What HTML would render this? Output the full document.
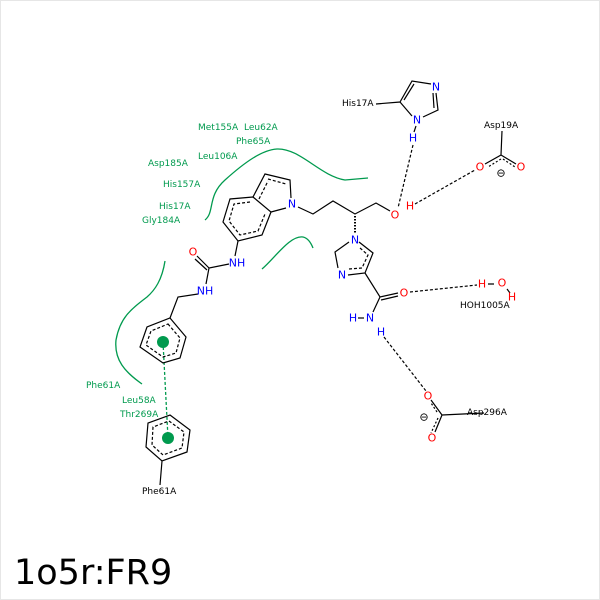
<!DOCTYPE html>
<html><head><meta charset="utf-8"><style>
html,body{margin:0;padding:0;background:#fff}
svg{display:block}
text{font-family:"DejaVu Sans","Liberation Sans",sans-serif;dominant-baseline:central}
.g{fill:#009a4e;font-size:9px}
.k{fill:#000;font-size:9px}
.b{fill:#0000ff;font-size:11px;text-anchor:middle}
.r{fill:#ff0000;font-size:11px;text-anchor:middle}
</style></head><body>
<svg width="600" height="600" viewBox="0 0 600 600" xmlns="http://www.w3.org/2000/svg">
<rect x="0.5" y="0.5" width="599" height="599" fill="#fff" stroke="#e6e6e6"/>
<g fill="none" stroke="#009a4e" stroke-width="1.3">
<path d="M205,220 C215,212 207,196 225,180 C245,162 262,150 277,149 C300,148 320,176 345,180 L368,178"/>
<path d="M262,269 C275,258 290,235 303,237 C308,238 311,243 313,248"/>
<path d="M165,261 C162,280 155,290 147,297 C130,310 120,318 116,340 C114,360 125,372 142,384"/>
<path d="M163,342 L168,438" stroke-dasharray="3,2"/>
</g>
<circle cx="163" cy="342" r="6" fill="#009a4e"/>
<circle cx="168" cy="438" r="6" fill="#009a4e"/>
<g fill="none" stroke="#000" stroke-width="1.2">
<!-- indole benzene -->
<path d="M253,197 L230,199 L223,222 L238,241 L262,235 L271,212 Z"/>
<path d="M250,202 L234,204 L229,221 L240,235 L258,231 L265,214" stroke-dasharray="3,2"/>
<!-- pyrrole -->
<path d="M253,197 L265,174 L290,180 L291,198 M286,208 L271,212"/>
<path d="M268,179 L286,184" stroke-dasharray="3,2"/>
<path d="M259,199 L268,181" stroke-dasharray="3,2"/>
<!-- chain -->
<path d="M298,207 L313,214 L333,201 L355,214 L376,203 L390,211"/>
<path d="M355,216 L355,233" stroke-dasharray="1.5,1.5" stroke-width="2"/>
<!-- imidazole -->
<path d="M359,242 L373,253 L365,273 L348,275 M338,268 L335,252 L349,242"/>
<path d="M360,248 L368,255 L362,268 L349,269" stroke-dasharray="3,2"/>
<path d="M365,273 L380,297 L398,293 M381,300 L398,296 M380,297 L373,312"/>
<path d="M358,318 L364,318"/>
<!-- urea -->
<path d="M238,241 L235,256 M229,264 L209,268 L206,284 M209,268 L197,256 M207,270 L195,259 M198,294 L178,297 L170,318"/>
<!-- benzyl ring -->
<path d="M170,318 L186,337 L180,358 L163,363 L140,347 L147,327 Z"/>
<path d="M168,324 L180,338 L176,353 L163,357 L146,345 L151,331 Z" stroke-dasharray="3,2"/>
<!-- Phe61A ring -->
<path d="M170,415 L190,430 L187,452 L162,461 L146,447 L148,423 Z M162,461 L160,485"/>
<path d="M169,421 L184,432 L182,448 L163,455 L152,445 L153,427 Z" stroke-dasharray="3,2"/>
<!-- His17A ring -->
<path d="M376,104 L400,102 L412,81 L431,84 M436,93 L438,110 L423,117 M412,116 L400,102 M404,100 L414,84 M433,93 L434,108"/>
<path d="M416,126 L414,132"/>
<!-- Asp19A -->
<path d="M502,131 L501,155 L485,164 M501,155 L516,164"/>
<path d="M501,159 L488,167 M503,159 L515,167" stroke-dasharray="2,2"/>
<!-- Asp296A -->
<path d="M442,415 L484,413 M442,415 L431,400 M442,415 L435,432"/>
<path d="M438,418 L431,433 M437,412 L431,403" stroke-dasharray="2,2"/>
<!-- water -->
<path d="M488,284 L494,284 M507,289 L510,293"/>
<!-- H bonds -->
<path d="M413,145 L398,208 M415,204 L475,170 M410,292 L477,285 M384,337 L426,391" stroke-dasharray="3,2"/>
</g>
<text class="b" x="292" y="204">N</text>
<text class="b" x="355" y="240">N</text>
<text class="b" x="342" y="275">N</text>
<text class="r" x="404" y="293">O</text>
<text class="b" x="370" y="318">N</text>
<text class="b" x="353" y="318">H</text>
<text class="b" x="381" y="332">H</text>
<text class="r" x="482" y="284">H</text>
<text class="r" x="502" y="283">O</text>
<text class="r" x="512" y="297">H</text>
<text class="k" x="460" y="306">HOH1005A</text>
<text class="r" x="428" y="396">O</text>
<text class="r" x="432" y="438">O</text>
<text class="k" x="424" y="417" style="font-size:11px;text-anchor:middle">⊖</text>
<text class="k" x="467" y="413">Asp296A</text>
<text class="b" x="237" y="263">NH</text>
<text class="r" x="193" y="252">O</text>
<text class="b" x="205" y="291">NH</text>
<text class="k" x="142" y="492">Phe61A</text>
<text class="k" x="342" y="104">His17A</text>
<text class="b" x="436" y="87">N</text>
<text class="b" x="417" y="120">N</text>
<text class="b" x="413" y="138">H</text>
<text class="r" x="395" y="215">O</text>
<text class="r" x="410" y="206">H</text>
<text class="r" x="480" y="167">O</text>
<text class="r" x="521" y="167">O</text>
<text class="k" x="501" y="173" style="font-size:11px;text-anchor:middle">⊖</text>
<text class="k" x="484" y="126">Asp19A</text>
<text class="g" x="198" y="128">Met155A</text>
<text class="g" x="244" y="128">Leu62A</text>
<text class="g" x="236" y="142">Phe65A</text>
<text class="g" x="198" y="157">Leu106A</text>
<text class="g" x="148" y="164">Asp185A</text>
<text class="g" x="163" y="185">His157A</text>
<text class="g" x="159" y="207">His17A</text>
<text class="g" x="142" y="221">Gly184A</text>
<text class="g" x="86" y="386">Phe61A</text>
<text class="g" x="122" y="401">Leu58A</text>
<text class="g" x="120" y="415">Thr269A</text>
<text x="14" y="573" style="font-size:35px;fill:#000">1o5r:FR9</text>
</svg>
</body></html>
